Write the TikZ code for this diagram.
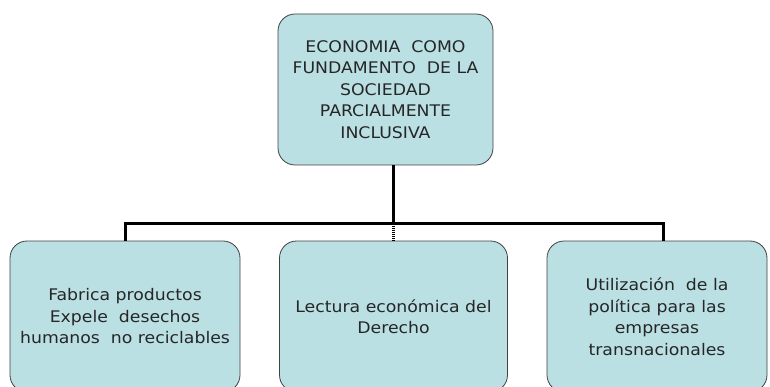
\documentclass[tikz,border=0pt]{standalone}
\usepackage{fontspec}
\setmainfont[FakeStretch=1.08]{DejaVu Sans}
\definecolor{boxfill}{HTML}{BBE0E3}
\begin{document}
\begin{tikzpicture}[x=1pt, y=-1pt,
    caja/.style={draw=black!75, line width=0.8pt, fill=boxfill, rounded corners=17pt,
        align=center, inner sep=0pt, text=black!85,
        font=\fontsize{16}{21.5}\selectfont},
    enlace/.style={line width=3pt, black}]
    \clip (0, 0) rectangle (770, 387);
    % tema central
    \node[caja, minimum width=215pt, minimum height=151pt] (econ) at (385.5, 89.5)
        {ECONOMIA\ \ COMO\\FUNDAMENTO\ \ DE LA\\SOCIEDAD\\PARCIALMENTE\\INCLUSIVA};
    % ramas
    \node[caja, minimum width=230pt, minimum height=151pt] (fabrica) at (125, 316.5)
        {Fabrica productos\\Expele\ \ desechos\\humanos\ \ no reciclables};
    \node[caja, minimum width=228pt, minimum height=151pt] (lectura) at (393.5, 316.5)
        {Lectura económica del\\Derecho};
    \node[caja, minimum width=220pt, minimum height=151pt] (utiliza) at (657, 316.5)
        {Utilización\ \ de la\\política para las\\empresas\\transnacionales};
    % conectores
    \coordinate (jl) at (125, 224);
    \coordinate (jm) at (393.5, 224);
    \coordinate (jr) at (663, 224);
    \draw[enlace] (econ.south -| jm) -- (jm);
    \draw[enlace] (fabrica.north) -- (jl) -- (jr) -- (jr |- utiliza.north);
    \draw[enlace, dash pattern=on 1pt off 1pt] (jm) -- (lectura.north);
\end{tikzpicture}
\end{document}
